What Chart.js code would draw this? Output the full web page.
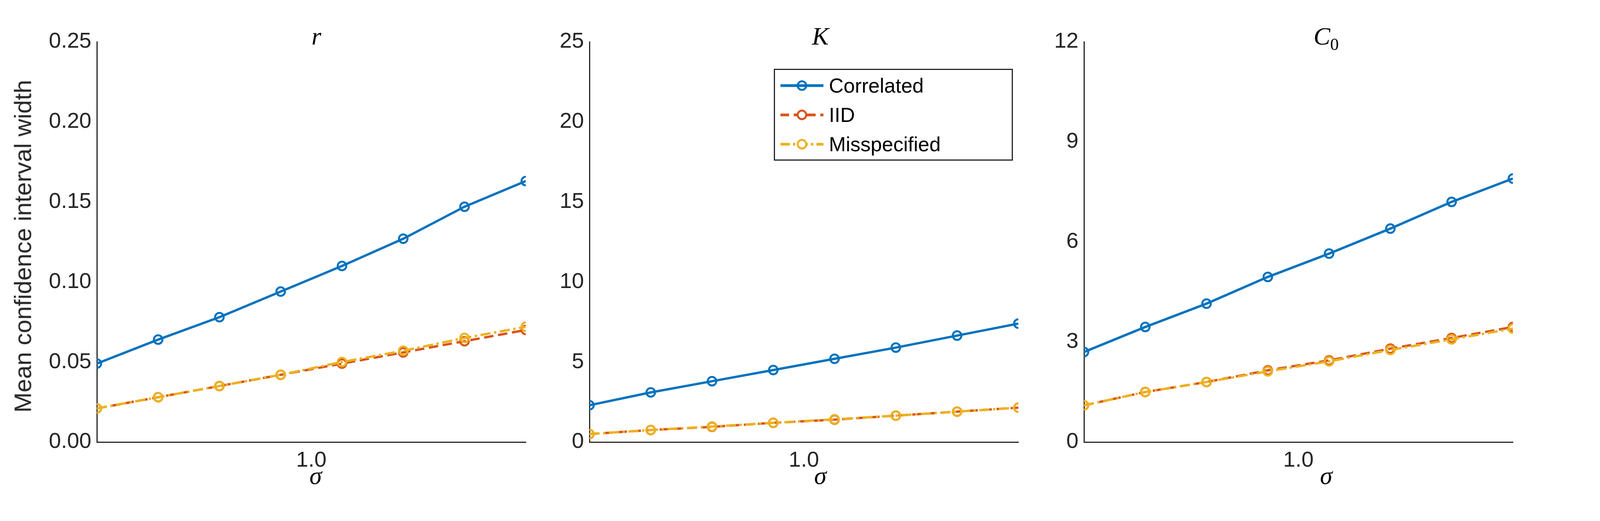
<!DOCTYPE html>
<html>
<head>
<meta charset="utf-8">
<script src="https://cdn.jsdelivr.net/npm/chart.js@4"></script>
<style>
body { margin: 0; background: #fff; width: 4167px; height: 1333px; position: relative; overflow: hidden; font-family: Helvetica, Arial, "Liberation Sans", sans-serif; }
.box { position: absolute; top: 0; height: 1333px; }
.ttl { position: absolute; font-family: "Liberation Serif", "DejaVu Serif", serif; font-style: italic; font-size: 64px; color: #000; transform: translateX(-50%); top: 56px; }
.sig { position: absolute; font-family: "Liberation Serif", "DejaVu Serif", serif; font-style: italic; font-size: 64px; color: #000; transform: translateX(-50%); top: 1180px; }
.ylab { position: absolute; left: 58px; top: 630px; font-size: 62px; color: #262626; transform: translate(-50%, -50%) rotate(-90deg); white-space: nowrap; }
.legend { position: absolute; left: 1981px; top: 176px; width: 606px; height: 229px; border: 3px solid #262626; background: #fff; font-size: 52px; color: #000; }
.legend div { height: 70px; display: flex; align-items: center; margin-top: 5px; }
.legend svg { margin-left: 14px; margin-right: 14px; }
</style>
</head>
<body>
<div class="box" style="left:78px;width:1330px"><canvas id="c1"></canvas></div>
<div class="box" style="left:1339px;width:1330px"><canvas id="c2"></canvas></div>
<div class="box" style="left:2605px;width:1330px"><canvas id="c3"></canvas></div>
<div class="ttl" style="left:810px">r</div>
<div class="ttl" style="left:2100px">K</div>
<div class="ttl" style="left:3395px">C<sub style="font-style:normal;font-size:44px">0</sub></div>
<div class="sig" style="left:808px">σ</div>
<div class="sig" style="left:2100px">σ</div>
<div class="sig" style="left:3395px">σ</div>
<div class="ylab">Mean confidence interval width</div>
<div class="legend">
  <div><svg width="110" height="30"><line x1="0" y1="15" x2="110" y2="15" stroke="#0072BD" stroke-width="7"/><circle cx="55" cy="15" r="11" fill="none" stroke="#0072BD" stroke-width="5"/></svg>Correlated</div>
  <div><svg width="110" height="30"><line x1="0" y1="15" x2="110" y2="15" stroke="#D95319" stroke-width="7" stroke-dasharray="22,12"/><circle cx="55" cy="15" r="11" fill="#fff" stroke="#D95319" stroke-width="5"/></svg>IID</div>
  <div><svg width="110" height="30"><line x1="0" y1="15" x2="110" y2="15" stroke="#EDB120" stroke-width="7" stroke-dasharray="24,8,6,8"/><circle cx="55" cy="15" r="11" fill="#fff" stroke="#EDB120" stroke-width="5"/></svg>Misspecified</div>
</div>
<script>
'use strict';

const sigma = [0.3, 0.5, 0.7, 0.9, 1.1, 1.3, 1.5, 1.7];

const rCorrelated = [0.049, 0.064, 0.078, 0.094, 0.110, 0.127, 0.147, 0.163];
const rIID = [0.021, 0.028, 0.035, 0.042, 0.049, 0.056, 0.063, 0.070];
const rMisspecified = [0.021, 0.028, 0.035, 0.042, 0.050, 0.057, 0.065, 0.072];

const kCorrelated = [2.3, 3.1, 3.8, 4.5, 5.2, 5.9, 6.65, 7.4];
const kIID = [0.5, 0.75, 0.95, 1.2, 1.4, 1.65, 1.9, 2.15];
const kMisspecified = [0.5, 0.75, 0.97, 1.2, 1.42, 1.65, 1.9, 2.15];

const cCorrelated = [2.7, 3.45, 4.15, 4.95, 5.65, 6.4, 7.2, 7.9];
const cIID = [1.1, 1.5, 1.8, 2.15, 2.45, 2.8, 3.12, 3.45];
const cMisspecified = [1.1, 1.5, 1.8, 2.12, 2.42, 2.76, 3.08, 3.4];

const rTicks = [0, 0.05, 0.10, 0.15, 0.20, 0.25];
const kTicks = [0, 5, 10, 15, 20, 25];
const cTicks = [0, 3, 6, 9, 12];

function pts(ys) {
    return sigma.map((x, i) => ({x: x, y: ys[i]}));
}

function ds(ys, color, dash, order) {
    return {
        data: pts(ys),
        order: order,
        borderColor: color,
        backgroundColor: '#fff',
        borderWidth: 6,
        borderDash: dash,
        pointRadius: 11,
        pointBorderWidth: 5,
        pointBackgroundColor: 'rgba(0,0,0,0)',
        pointBorderColor: color,
    };
}

window.makePanel = function (id, series, yTicks, decimals) {
    let ctx = document.getElementById(id).getContext('2d');
    ctx.canvas.style.width = '1330px';
    ctx.canvas.style.height = '1333px';
    new Chart(ctx, {
        type: 'line',
        data: {
            datasets: [
                ds(series[0], '#0072BD', [], 2),
                ds(series[1], '#D95319', [24, 12], 1),
                ds(series[2], '#EDB120', [26, 9, 6, 9], 0),
            ],
        },
        options: {
            responsive: false,
            animation: false,
            layout: {padding: {top: 107, right: 62, left: 0, bottom: 0}},
            plugins: {legend: {display: false}, tooltip: {enabled: false}},
            scales: {
                x: {
                    type: 'linear',
                    min: 0.3,
                    max: 1.7,
                    afterBuildTicks: a => { a.ticks = [{value: 1.0}]; },
                    afterFit: a => { a.height = 202; },
                    ticks: {
                        color: '#262626',
                        font: {size: 56},
                        padding: 14,
                        callback: v => v.toFixed(1),
                    },
                    grid: {drawOnChartArea: false, tickLength: 0},
                    border: {color: '#262626', width: 3},
                },
                y: {
                    min: yTicks[0],
                    max: yTicks[yTicks.length - 1],
                    afterBuildTicks: a => { a.ticks = yTicks.map(v => ({value: v})); },
                    afterFit: a => { a.width = 170; },
                    ticks: {
                        color: '#262626',
                        font: {size: 56},
                        padding: 14,
                        callback: v => v.toFixed(decimals),
                    },
                    grid: {drawOnChartArea: false, tickLength: 0},
                    border: {color: '#262626', width: 3},
                },
            },
        },
    });
};

makePanel('c1', [rCorrelated, rIID, rMisspecified], rTicks, 2);
makePanel('c2', [kCorrelated, kIID, kMisspecified], kTicks, 0);
makePanel('c3', [cCorrelated, cIID, cMisspecified], cTicks, 0);
</script>
</body>
</html>
